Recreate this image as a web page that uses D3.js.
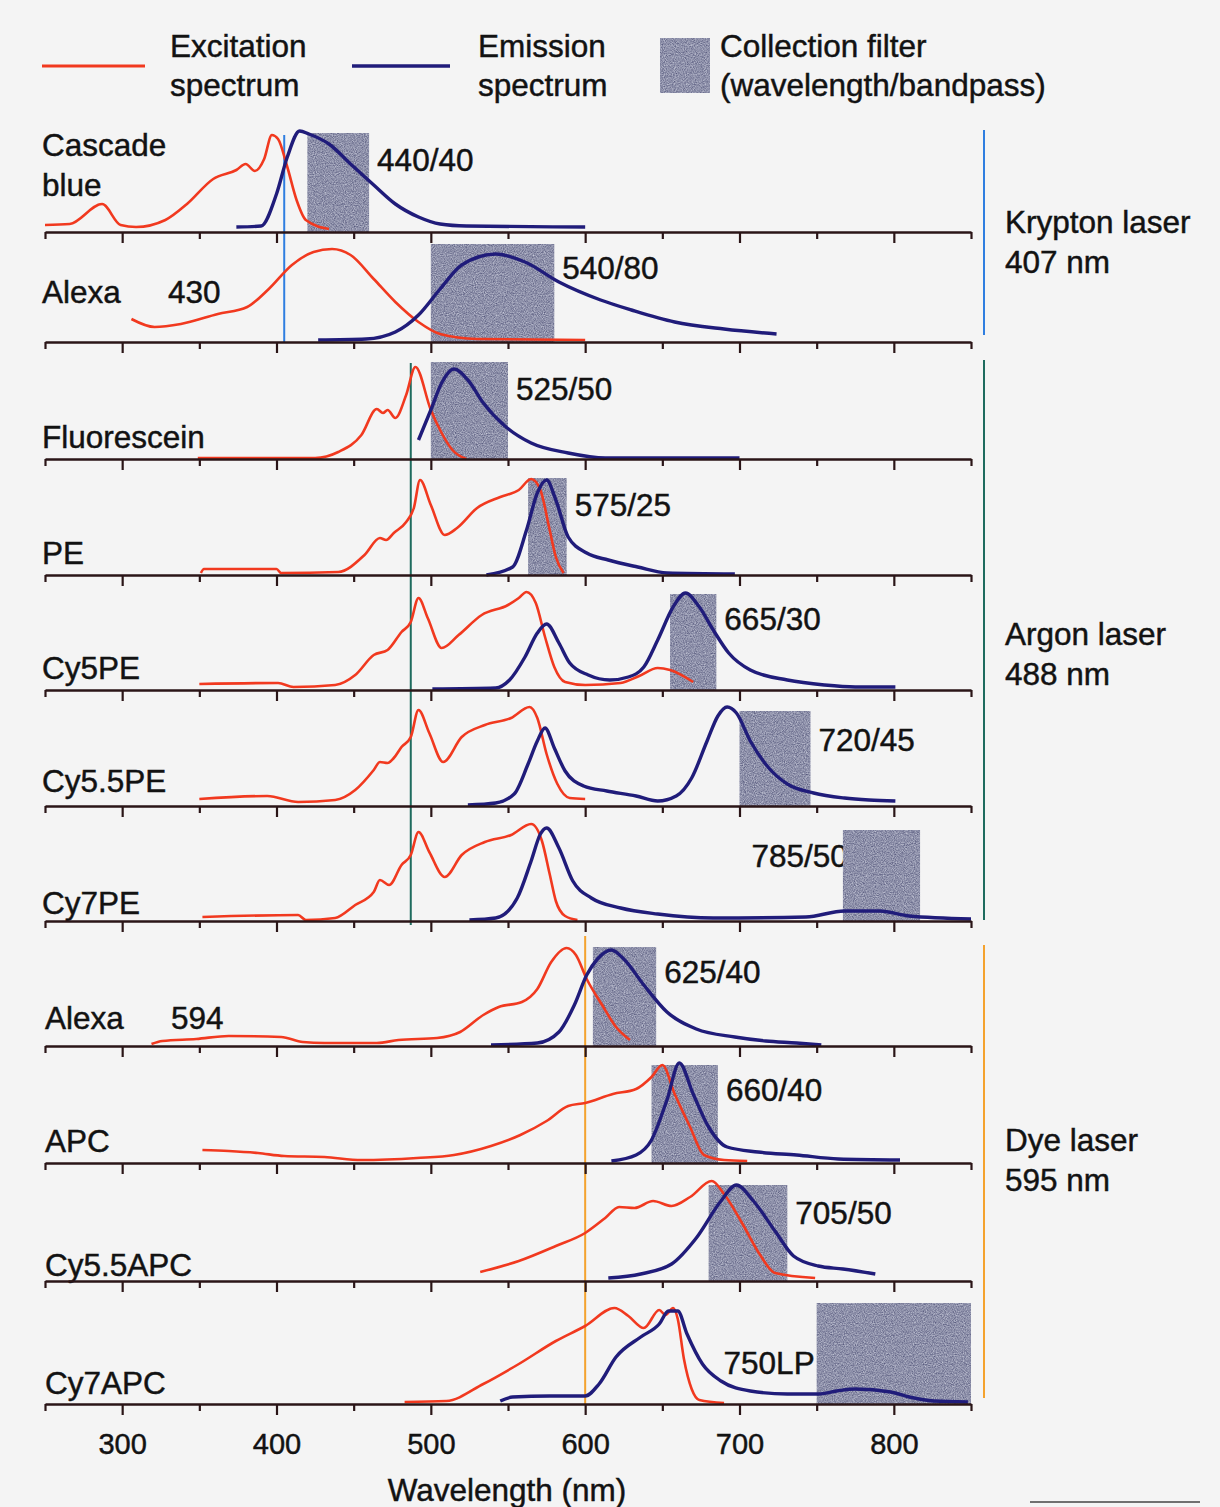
<!DOCTYPE html>
<html lang="en">
<head>
<meta charset="UTF-8">
<title>Fluorochrome spectra and collection filters</title>
<script src="https://cdnjs.cloudflare.com/ajax/libs/d3/7.8.5/d3.min.js"></script>
<style>
    body { margin: 0; background: #f4f4f4; }
    svg { display: block; font-family: "Liberation Sans", Arial, sans-serif; }
</style>
</head>
<body>
<svg id="chart" width="1220" height="1507"></svg>
<script>
    // ---- data: [wavelength nm, normalised intensity] ----
    var dyeNames = ["Cascade blue", "Alexa 430", "Fluorescein", "PE", "Cy5PE", "Cy5.5PE",
                    "Cy7PE", "Alexa 594", "APC", "Cy5.5APC", "Cy7APC"];

    var cascadeEx = [[250,0.07],[266,0.08],[287,0.28],[299,0.07],[309,0.05],[328,0.12],[342,0.28],[359,0.53],[374,0.62],[380,0.68],[386,0.61],[392,0.73],[397,0.97],[401,0.93],[407,0.65],[413,0.32],[419,0.12],[434,0.03]];
    var cascadeEm = [[374,0.05],[390,0.06],[400,0.38],[407,0.75],[415,1.01],[421,0.98],[434,0.88],[448,0.68],[463,0.47],[477,0.28],[492,0.15],[506,0.08],[523,0.06],[600,0.05]];

    var alexa430Ex = [[306,0.23],[321,0.15],[338,0.18],[362,0.28],[381,0.35],[395,0.53],[410,0.77],[424,0.9],[436,0.93],[448,0.87],[463,0.63],[477,0.4],[492,0.2],[506,0.08],[530,0.03],[600,0.02]];
    var alexa430Em = [[427,0.02],[458,0.03],[477,0.1],[492,0.27],[506,0.53],[520,0.77],[542,0.88],[561,0.8],[583,0.6],[610,0.42],[630,0.32],[658,0.2],[690,0.13],[724,0.08]];

    var fluorEx = [[349,0.01],[425,0.01],[440,0.07],[455,0.24],[465,0.5],[469,0.46],[472,0.49],[477,0.41],[484,0.64],[490,0.92],[500,0.49],[507,0.26],[514,0.09],[523,0.0]];
    var fluorEm = [[492,0.19],[500,0.49],[507,0.76],[515,0.9],[524,0.79],[534,0.56],[548,0.33],[565,0.16],[589,0.06],[613,0.01],[700,0.01]];

    var peEx = [[351,0.02],[353,0.06],[400,0.06],[403,0.02],[440,0.03],[457,0.2],[467,0.37],[471,0.35],[476,0.42],[484,0.53],[489,0.67],[493,0.95],[500,0.7],[509,0.4],[517,0.47],[530,0.67],[545,0.78],[557,0.85],[565,0.96],[571,0.85],[577,0.45],[581,0.18],[586,0.02]];
    var peEm = [[536,0.0],[553,0.08],[562,0.45],[569,0.82],[575,0.95],[581,0.75],[589,0.38],[601,0.22],[615,0.15],[634,0.08],[653,0.02],[697,0.01]];

    var cy5peEx = [[350,0.06],[401,0.07],[411,0.03],[438,0.05],[451,0.15],[463,0.35],[472,0.4],[481,0.58],[487,0.68],[492,0.92],[498,0.72],[507,0.42],[518,0.55],[533,0.75],[550,0.85],[557,0.92],[562,0.98],[568,0.87],[574,0.53],[580,0.23],[587,0.08],[600,0.05],[623,0.07],[635,0.14],[647,0.22],[655,0.2],[670,0.08]];
    var cy5peEm = [[501,0.01],[542,0.02],[551,0.1],[561,0.33],[569,0.57],[575,0.66],[583,0.47],[590,0.27],[602,0.15],[616,0.1],[628,0.13],[638,0.23],[647,0.5],[657,0.83],[665,0.97],[674,0.83],[683,0.6],[693,0.37],[707,0.2],[731,0.1],[755,0.05],[775,0.03],[801,0.03]];

    var cy55peEx = [[350,0.07],[394,0.1],[414,0.04],[438,0.06],[451,0.16],[463,0.36],[467,0.44],[472,0.43],[476,0.48],[481,0.59],[487,0.69],[492,0.96],[499,0.73],[508,0.44],[520,0.69],[535,0.81],[552,0.88],[564,0.99],[569,0.88],[575,0.52],[582,0.22],[590,0.08],[600,0.07]];
    var cy55peEm = [[524,0.01],[542,0.03],[554,0.12],[563,0.42],[569,0.65],[574,0.78],[580,0.58],[587,0.35],[599,0.2],[614,0.15],[633,0.1],[647,0.05],[659,0.1],[669,0.28],[679,0.65],[686,0.9],[692,0.99],[698,0.93],[707,0.65],[719,0.38],[731,0.22],[748,0.13],[768,0.08],[784,0.06],[801,0.05]];

    var cy7peEx = [[352,0.04],[414,0.06],[419,0.01],[438,0.03],[451,0.16],[463,0.29],[467,0.41],[473,0.36],[481,0.56],[487,0.66],[492,0.89],[499,0.69],[509,0.44],[520,0.66],[535,0.79],[552,0.86],[565,0.97],[572,0.8],[577,0.47],[581,0.2],[587,0.05],[595,0.01]];
    var cy7peEm = [[525,0.01],[542,0.03],[556,0.23],[565,0.6],[571,0.87],[575,0.93],[583,0.73],[592,0.4],[604,0.23],[623,0.13],[647,0.07],[683,0.03],[743,0.04],[768,0.1],[791,0.1],[810,0.05],[850,0.02]];

    var alexa594Ex = [[319,0.02],[326,0.05],[348,0.07],[369,0.1],[403,0.09],[417,0.04],[431,0.03],[465,0.03],[479,0.06],[504,0.08],[519,0.14],[534,0.31],[544,0.39],[559,0.44],[569,0.57],[578,0.84],[588,0.98],[594,0.91],[601,0.67],[611,0.41],[620,0.19],[629,0.06]];
    var alexa594Em = [[539,0.01],[569,0.03],[583,0.14],[593,0.41],[601,0.71],[608,0.87],[617,0.96],[625,0.87],[638,0.61],[653,0.34],[672,0.17],[697,0.09],[717,0.05],[737,0.03],[753,0.01]];

    var apcEx = [[352,0.13],[369,0.12],[388,0.1],[405,0.07],[431,0.06],[455,0.03],[491,0.05],[515,0.08],[539,0.17],[558,0.28],[575,0.42],[589,0.57],[600,0.6],[618,0.69],[633,0.74],[643,0.86],[650,0.98],[658,0.69],[668,0.36],[677,0.08],[690,0.03],[705,0.02]];
    var apcEm = [[617,0.02],[633,0.08],[643,0.23],[653,0.63],[661,1.0],[670,0.69],[680,0.36],[692,0.16],[712,0.11],[737,0.08],[764,0.04],[804,0.03]];

    var cy55apcEx = [[532,0.09],[557,0.2],[581,0.35],[600,0.48],[613,0.63],[622,0.74],[632,0.73],[644,0.8],[656,0.75],[668,0.84],[682,1.0],[690,0.87],[702,0.57],[713,0.27],[723,0.08],[749,0.03]];
    var cy55apcEm = [[615,0.03],[636,0.07],[656,0.17],[672,0.43],[688,0.8],[698,0.96],[709,0.8],[723,0.5],[735,0.25],[751,0.15],[767,0.12],[788,0.07]];

    var cy7apcEx = [[483,0.02],[510,0.03],[534,0.2],[557,0.4],[581,0.63],[600,0.78],[619,0.96],[628,0.88],[638,0.76],[648,0.94],[652,0.89],[657,0.96],[660,0.85],[664,0.45],[669,0.15],[674,0.04],[690,0.01]];
    var cy7apcEm = [[545,0.03],[553,0.07],[577,0.08],[600,0.08],[609,0.2],[620,0.47],[636,0.67],[648,0.8],[654,0.93],[660,0.93],[666,0.7],[676,0.4],[688,0.23],[707,0.13],[731,0.1],[751,0.1],[763,0.13],[775,0.15],[798,0.12],[810,0.07],[826,0.03],[848,0.02]];

    var excitation = [cascadeEx, alexa430Ex, fluorEx, peEx, cy5peEx, cy55peEx, cy7peEx, alexa594Ex, apcEx, cy55apcEx, cy7apcEx];
    var emission = [cascadeEm, alexa430Em, fluorEm, peEm, cy5peEm, cy55peEm, cy7peEm, alexa594Em, apcEm, cy55apcEm, cy7apcEm];

    // collection filters: [from nm, to nm], box height, label
    var filterBands = [[420,460],[500,580],[500,550],[563,588],[655,685],[700,746],[767,817],[605,646],[643,686],[680,731],[750,850]];
    var filterTops = [0.99, 0.98, 0.97, 0.97, 0.96, 0.95, 0.91, 0.99, 0.98, 0.96, 1.01];
    var filterLabels = ["440/40", "540/80", "525/50", "575/25", "665/30", "720/45", "785/50", "625/40", "660/40", "705/50", "750LP"];

    // lasers: name, label, drawn line position (nm), panels covered
    var laserNames = ["Krypton laser", "Argon laser", "Dye laser"];
    var laserLines = ["407 nm", "488 nm", "595 nm"];
    var laserDrawnAt = [405, 487, 600];
    var laserPanels = [[0, 1], [2, 6], [7, 10]];
    var laserColors = ["#2f7ee0", "#1e6b5e", "#f4a22e"];

    var majorTicks = [300, 400, 500, 600, 700, 800];
    var minorTicks = [250, 350, 450, 550, 650, 750, 850];

    // ---- layout ----
    var baselines = [232, 342, 459, 575, 690, 806, 921, 1046, 1163, 1281, 1404];
    var nameDy = [-76, -39, -11, -11, -11, -14, -7, -17, -11, -5, -10];
    var filterLabelDy = [-61, -63, -59, -59, -60, -55, -54, -63, -62, -57, -30];
    var unit = 100;
    var exColor = "#f1391f", emColor = "#201c7a", axisColor = "#2a1517", textColor = "#121212";

    var svg = d3.select("#chart");
    svg.append("rect").attr("width", 1220).attr("height", 1507).attr("fill", "#f4f4f4");

    var x = d3.scaleLinear().domain([250, 850]).range([45, 971]);
    function yScale(i) {
        return d3.scaleLinear().domain([0, 1]).range([baselines[i], baselines[i] - unit]);
    }

    // grainy fill for the filter boxes
    var defs = svg.append("defs");
    var grain = defs.append("filter").attr("id", "grain")
        .attr("x", 0).attr("y", 0).attr("width", 1).attr("height", 1)
        .attr("color-interpolation-filters", "sRGB");
    grain.append("feTurbulence").attr("type", "fractalNoise").attr("baseFrequency", 0.9)
        .attr("numOctaves", 2).attr("seed", 7).attr("result", "n");
    grain.append("feColorMatrix").attr("in", "n").attr("type", "matrix")
        .attr("values", "0.55 0 0 0 0.28  0.55 0 0 0 0.29  0.45 0 0 0 0.44  0 0 0 0 1")
        .attr("result", "c");
    grain.append("feComposite").attr("in", "c").attr("in2", "SourceGraphic").attr("operator", "in");

    var text = svg.append("g").attr("fill", textColor).attr("font-size", 31.5)
        .attr("stroke", textColor).attr("stroke-width", 0.45);

    // ---- legend ----
    svg.append("line").attr("x1", 42).attr("x2", 145).attr("y1", 66).attr("y2", 66)
        .attr("stroke", exColor).attr("stroke-width", 3);
    svg.append("line").attr("x1", 352).attr("x2", 450).attr("y1", 66).attr("y2", 66)
        .attr("stroke", emColor).attr("stroke-width", 3.5);
    svg.append("rect").attr("x", 660).attr("y", 38).attr("width", 50).attr("height", 55)
        .attr("fill", "#8084a2").attr("filter", "url(#grain)");
    [["Excitation", 170, 57], ["spectrum", 170, 96], ["Emission", 478, 57], ["spectrum", 478, 96],
     ["Collection filter", 720, 57], ["(wavelength/bandpass)", 720, 96]].forEach(function (t) {
        text.append("text").attr("x", t[1]).attr("y", t[2]).text(t[0]);
    });

    // ---- panels ----
    var line = d3.line()
        .x(function (d) { return x(d[0]); })
        .curve(d3.curveMonotoneX);

    var boxes = svg.append("g"), lasersG = svg.append("g"), curves = svg.append("g"), axes = svg.append("g");

    dyeNames.forEach(function (name, i) {
        var y = yScale(i);
        var B = baselines[i];

        var band = filterBands[i];
        boxes.append("rect")
            .attr("x", x(band[0])).attr("width", x(band[1]) - x(band[0]))
            .attr("y", y(filterTops[i])).attr("height", B - y(filterTops[i]))
            .attr("fill", "#8084a2").attr("filter", "url(#grain)");

        line.y(function (d) { return y(d[1]); });
        curves.append("path").datum(excitation[i])
            .attr("fill", "none").attr("stroke", exColor).attr("stroke-width", 2.6)
            .attr("stroke-linejoin", "round").attr("d", line);
        curves.append("path").datum(emission[i])
            .attr("fill", "none").attr("stroke", emColor).attr("stroke-width", 3.4)
            .attr("stroke-linejoin", "round").attr("d", line);

        var g = axes.append("g").attr("transform", "translate(0," + B + ")");
        g.call(d3.axisBottom(x).tickValues(minorTicks).tickSize(7).tickSizeOuter(0).tickFormat(""));
        var major = g.append("g").call(d3.axisBottom(x).tickValues(majorTicks).tickSize(11).tickSizeOuter(0)
            .tickPadding(18).tickFormat(i === dyeNames.length - 1 ? d3.format("d") : ""));
        major.select(".domain").remove();
        g.selectAll(".domain").attr("stroke", axisColor).attr("stroke-width", 2.4);
        g.selectAll(".tick line").attr("stroke", axisColor).attr("stroke-width", 2.2);
        g.selectAll(".tick text").attr("font-size", 29).attr("fill", textColor)
            .attr("stroke", textColor).attr("stroke-width", 0.45)
            .attr("font-family", "Liberation Sans, Arial, sans-serif");

        // dye name
        var lx = i < 7 ? 42 : 45;
        if (name === "Cascade blue") {
            text.append("text").attr("x", lx).attr("y", B + nameDy[i]).text("Cascade");
            text.append("text").attr("x", lx).attr("y", B + nameDy[i] + 40).text("blue");
        } else if (name.indexOf("Alexa") === 0) {
            text.append("text").attr("x", lx).attr("y", B + nameDy[i]).text("Alexa");
            text.append("text").attr("x", lx + 126).attr("y", B + nameDy[i]).text(name.split(" ")[1]);
        } else {
            text.append("text").attr("x", lx).attr("y", B + nameDy[i]).text(name);
        }

        // filter label
        var fl = text.append("text").attr("y", B + filterLabelDy[i]).text(filterLabels[i]);
        if (i === 6) fl.attr("x", x(band[0]) + 5).attr("text-anchor", "end");
        else if (i === 10) fl.attr("x", x(band[0]) - 2).attr("text-anchor", "end");
        else fl.attr("x", x(band[1]) + 8);
    });

    // ---- laser lines and brackets ----
    var laserTop = [0.97, 0.96, 1.1];
    var bracketSpan = [[130, 335], [360, 920], [945, 1398]];
    var laserTextY = [233, 645, 1151];
    laserNames.forEach(function (name, k) {
        var first = laserPanels[k][0], last = laserPanels[k][1];
        lasersG.append("line")
            .attr("x1", x(laserDrawnAt[k])).attr("x2", x(laserDrawnAt[k]))
            .attr("y1", yScale(first)(laserTop[k])).attr("y2", baselines[last] + (k === 1 ? 4 : 0))
            .attr("stroke", laserColors[k]).attr("stroke-width", 2);
        svg.append("line").attr("x1", 984).attr("x2", 984)
            .attr("y1", bracketSpan[k][0]).attr("y2", bracketSpan[k][1])
            .attr("stroke", laserColors[k]).attr("stroke-width", 2);
        text.append("text").attr("x", 1005).attr("y", laserTextY[k]).text(name);
        text.append("text").attr("x", 1005).attr("y", laserTextY[k] + 40).text(laserLines[k]);
    });

    // axis title
    text.append("text").attr("x", 507).attr("y", 1501).attr("text-anchor", "middle").text("Wavelength (nm)");

    // stray rule at the bottom right of the scan
    svg.append("line").attr("x1", 1030).attr("x2", 1200).attr("y1", 1502).attr("y2", 1502)
        .attr("stroke", "#444").attr("stroke-width", 1.5);
</script>
</body>
</html>
